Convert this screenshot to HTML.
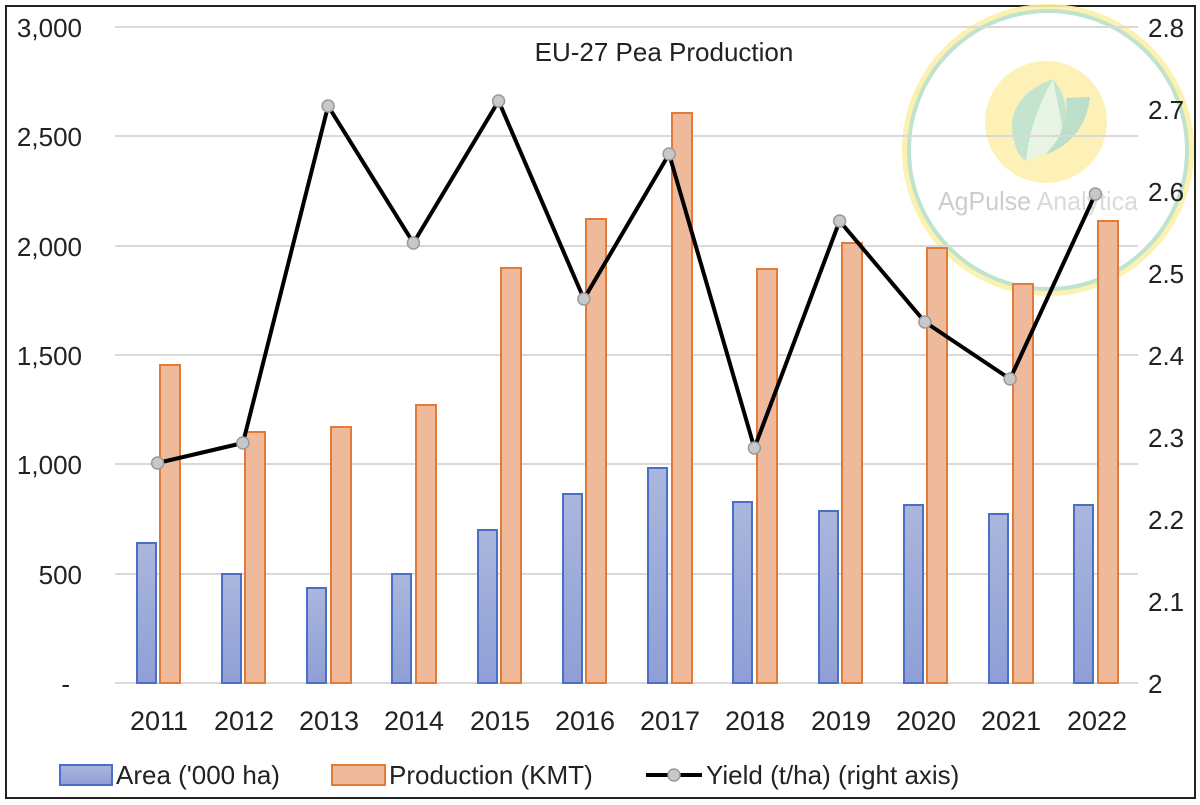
<!DOCTYPE html>
<html><head><style>body{margin:0;background:#fff}svg{display:block;font-family:"Liberation Sans","DejaVu Sans",sans-serif}</style></head><body>
<svg width="1200" height="805" viewBox="0 0 1200 805">
<defs>
<linearGradient id="ga" x1="0" y1="0" x2="0" y2="1"><stop offset="0" stop-color="#aab6dc"/><stop offset="1" stop-color="#8f9fd6"/></linearGradient>
</defs>
<rect x="6" y="6" width="1189" height="792" fill="#fff" stroke="#222" stroke-width="2"/>
<g opacity="0.9">
<circle cx="1048" cy="150" r="143" fill="none" stroke="#fbf0a8" stroke-width="6"/>
<circle cx="1048" cy="150" r="139" fill="none" stroke="#b9e0c8" stroke-width="4"/>
<circle cx="1046" cy="122" r="61" fill="#fdf0b0"/>
<path d="M1053 79 Q1010 95 1012 130 Q1015 155 1026 161 Q1060 150 1065 125 Q1070 100 1053 79Z" fill="#bfe2cc"/>
<path d="M1053 79 Q1030 120 1026 161 Q1060 150 1062 125Z" fill="#e6f5e2"/>
<path d="M1066 98 L1090 97 Q1085 140 1045 155 Q1070 130 1066 98Z" fill="#b4dcc6"/>
<text x="1038" y="210" font-size="26" fill="#c8c8c8" text-anchor="middle" textLength="200" lengthAdjust="spacingAndGlyphs">AgPulse <tspan fill="#d6d6d6">Analytica</tspan></text>
</g>
<g stroke="#d9d9d9" stroke-width="2">
<line x1="115" x2="1138" y1="27" y2="27"/><line x1="115" x2="1138" y1="136" y2="136"/><line x1="115" x2="1138" y1="246" y2="246"/><line x1="115" x2="1138" y1="355" y2="355"/><line x1="115" x2="1138" y1="464" y2="464"/><line x1="115" x2="1138" y1="574" y2="574"/><line x1="115" x2="1138" y1="683" y2="683"/>
</g>
<text x="664" y="61" font-size="26" fill="#222" text-anchor="middle">EU-27 Pea Production</text>
<g font-size="26" fill="#222" text-anchor="end">
<text x="82" y="37">3,000</text><text x="82" y="146">2,500</text><text x="82" y="256">2,000</text><text x="82" y="365">1,500</text><text x="82" y="474">1,000</text><text x="82" y="584">500</text><text x="70" y="693">-</text>
</g>
<g font-size="26" fill="#222" text-anchor="start">
<text x="1148" y="37">2.8</text><text x="1148" y="119">2.7</text><text x="1148" y="201">2.6</text><text x="1148" y="283">2.5</text><text x="1148" y="365">2.4</text><text x="1148" y="447">2.3</text><text x="1148" y="529">2.2</text><text x="1148" y="611">2.1</text><text x="1148" y="693">2</text>
</g>
<g fill="url(#ga)" stroke="#4a6fc7" stroke-width="2">
<rect x="137" y="543" width="19" height="140"/>
<rect x="222" y="574" width="19" height="109"/>
<rect x="307" y="588" width="19" height="95"/>
<rect x="392" y="574" width="19" height="109"/>
<rect x="478" y="530" width="19" height="153"/>
<rect x="563" y="494" width="19" height="189"/>
<rect x="648" y="468" width="19" height="215"/>
<rect x="733" y="502" width="19" height="181"/>
<rect x="819" y="511" width="19" height="172"/>
<rect x="904" y="505" width="19" height="178"/>
<rect x="989" y="514" width="19" height="169"/>
<rect x="1074" y="505" width="19" height="178"/>
</g>
<g fill="#efb99c" stroke="#e07b39" stroke-width="2">
<rect x="160" y="365" width="20" height="318"/>
<rect x="245" y="432" width="20" height="251"/>
<rect x="331" y="427" width="20" height="256"/>
<rect x="416" y="405" width="20" height="278"/>
<rect x="501" y="268" width="20" height="415"/>
<rect x="586" y="219" width="20" height="464"/>
<rect x="672" y="113" width="20" height="570"/>
<rect x="757" y="269" width="20" height="414"/>
<rect x="842" y="243" width="20" height="440"/>
<rect x="927" y="248" width="20" height="435"/>
<rect x="1013" y="284" width="20" height="399"/>
<rect x="1098" y="221" width="20" height="462"/>
</g>
<polyline fill="none" stroke="#000" stroke-width="4" stroke-linejoin="round" points="157.6,463 242.9,443 328.1,106 413.4,243 498.6,101 583.9,299 669.1,154 754.4,448 839.6,221 924.9,322 1010.1,379 1095.4,194"/>
<g fill="#c8c8c8" stroke="#9a9a9a" stroke-width="1.5">
<circle cx="157.6" cy="463" r="6"/><circle cx="242.9" cy="443" r="6"/><circle cx="328.1" cy="106" r="6"/><circle cx="413.4" cy="243" r="6"/><circle cx="498.6" cy="101" r="6"/><circle cx="583.9" cy="299" r="6"/><circle cx="669.1" cy="154" r="6"/><circle cx="754.4" cy="448" r="6"/><circle cx="839.6" cy="221" r="6"/><circle cx="924.9" cy="322" r="6"/><circle cx="1010.1" cy="379" r="6"/><circle cx="1095.4" cy="194" r="6"/>
</g>
<g font-size="27" fill="#222" text-anchor="middle">
<text x="159" y="730">2011</text><text x="244" y="730">2012</text><text x="329" y="730">2013</text><text x="414" y="730">2014</text><text x="500" y="730">2015</text><text x="585" y="730">2016</text><text x="670" y="730">2017</text><text x="755" y="730">2018</text><text x="841" y="730">2019</text><text x="926" y="730">2020</text><text x="1011" y="730">2021</text><text x="1097" y="730">2022</text>
</g>
<rect x="60" y="765" width="52" height="20" fill="url(#ga)" stroke="#4a6fc7" stroke-width="2"/>
<text x="116" y="784" font-size="26" fill="#222">Area ('000 ha)</text>
<rect x="332" y="765" width="53" height="20" fill="#efb99c" stroke="#e07b39" stroke-width="2"/>
<text x="389" y="784" font-size="26" fill="#222">Production (KMT)</text>
<line x1="646" y1="775" x2="702" y2="775" stroke="#000" stroke-width="4"/>
<circle cx="674" cy="775" r="6" fill="#c8c8c8" stroke="#9a9a9a" stroke-width="1.5"/>
<text x="706" y="784" font-size="26" fill="#222">Yield (t/ha) (right axis)</text>
</svg>
</body></html>
